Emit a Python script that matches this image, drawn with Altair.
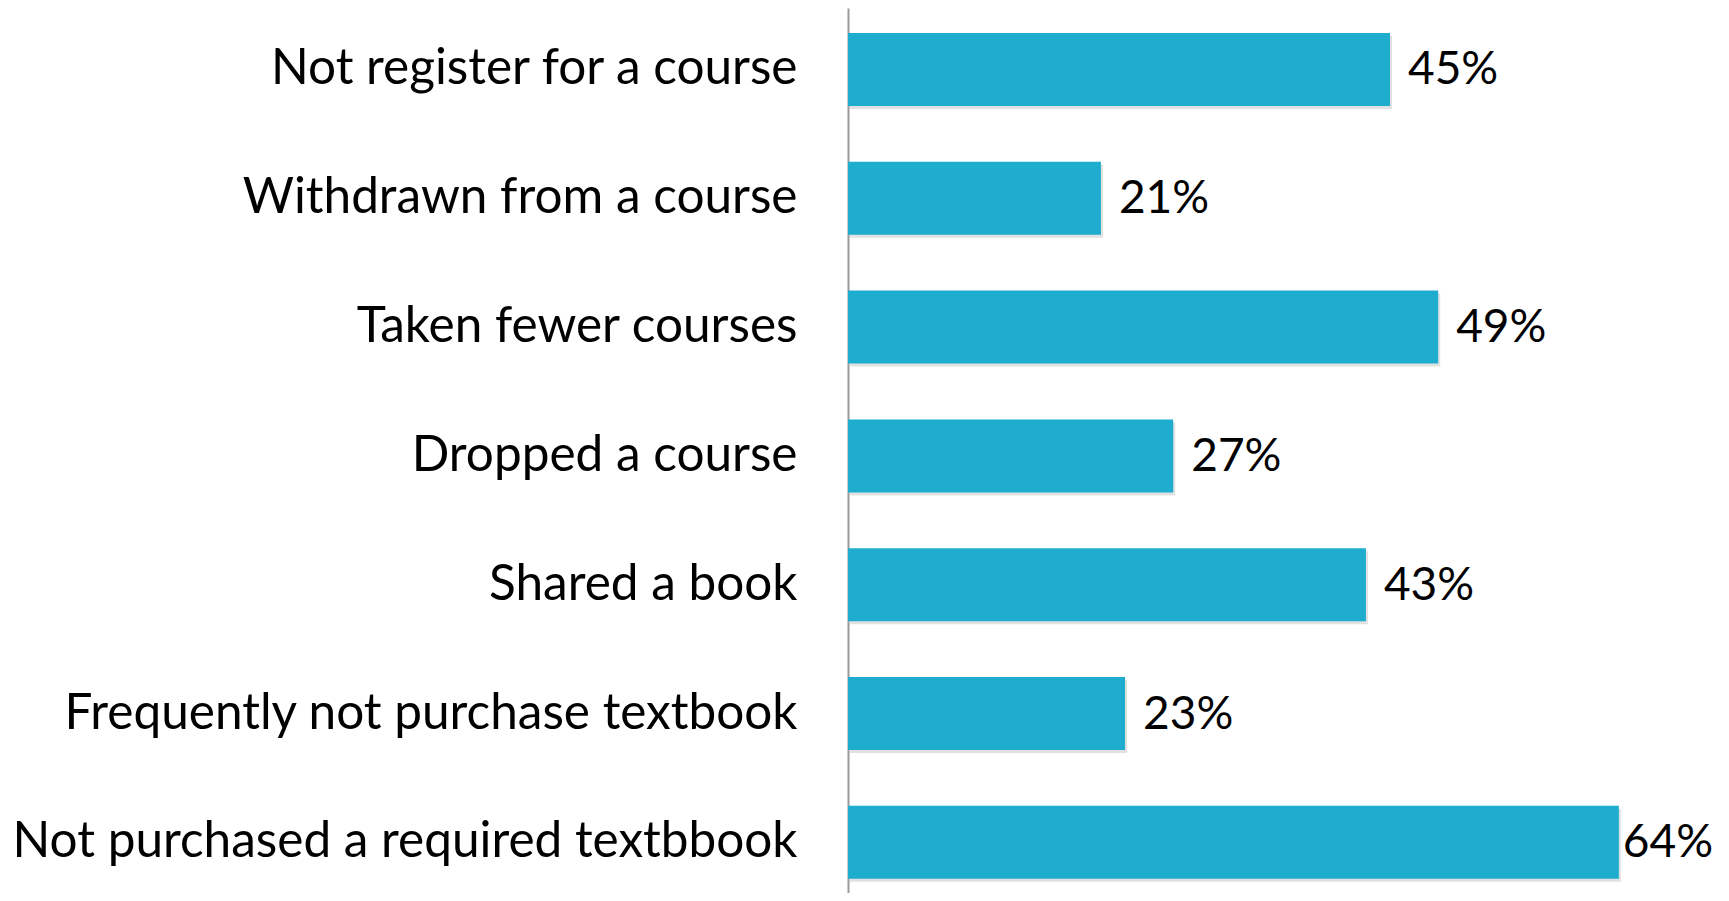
import altair as alt
import pandas as pd

categories = [
    "Not register for a course",
    "Withdrawn from a course",
    "Taken fewer courses\u2009",
    "Dropped a course",
    "Shared a book",
    "Frequently not purchase textbook",
    "Not purchased a required textbbook",
]
values = [45, 21, 49, 27, 43, 23, 64]
value_labels = ["45%", "21%", "49%", "27%", "43%", "23%", "64%"]

df = pd.DataFrame({"cat": categories, "value": values, "label": value_labels})

FONT = "Lato"
BAR = "#1fadcf"

y_enc = alt.Y(
    "cat:N",
    sort=categories,
    title=None,
    scale=alt.Scale(paddingInner=0.433, paddingOuter=0.152, align=0.638),
    axis=alt.Axis(
        labelFont=FONT,
        labelFontSize=49.5,
        labelColor="#000000",
        labelPadding=51,
        ticks=False,
        domainColor="#9a9a9a",
        domainWidth=2,
        labelLimit=900,
        grid=False,
    ),
)
x_enc = alt.X("value:Q", scale=alt.Scale(domain=[0, 72.48], nice=False, zero=True), axis=None)

base = alt.Chart(df).encode(y=y_enc, x=x_enc)

shadow = base.mark_bar(color="#c8c8c8", opacity=0.55).encode(
    yOffset=alt.value(3), xOffset=alt.value(2)
)
bars = base.mark_bar(color=BAR, stroke=None)

text_normal = base.transform_filter("datum.value < 60").mark_text(
    align="left", baseline="middle", dx=18, dy=1, font=FONT, fontSize=46, color="#000000"
).encode(text="label:N")
text_edge = base.transform_filter("datum.value >= 60").mark_text(
    align="left", baseline="middle", dx=4, dy=1, font=FONT, fontSize=46, color="#000000"
).encode(text="label:N")

chart = (
    alt.layer(shadow, bars, text_normal, text_edge)
    .properties(
        width=873,
        height=885,
        autosize=alt.AutoSizeParams(type="none"),
        padding={"left": 840, "top": 0, "right": 0, "bottom": 0},
        background="#ffffff",
    )
    .configure_view(stroke=None)
)

chart.save("out.html", embed_options={"renderer": "svg", "actions": False})
